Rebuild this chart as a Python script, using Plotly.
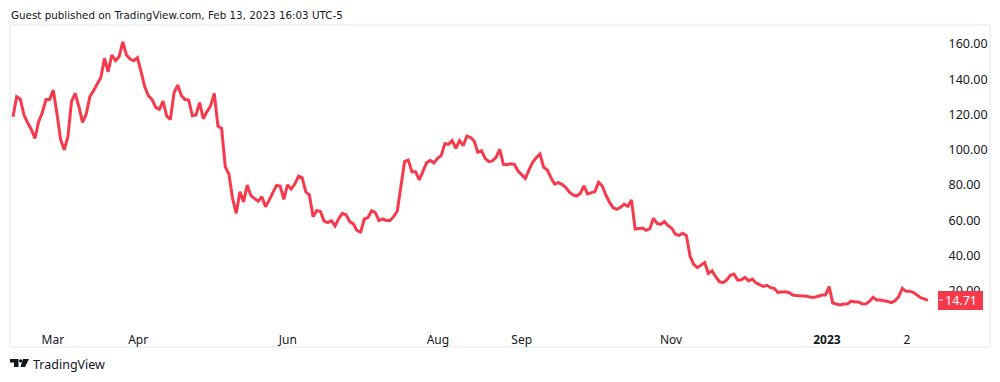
import plotly.graph_objects as go

prices = [
118.7,130.1,128.7,119.7,115.3,111.5,106.4,115.9,121.0,128.5,128.5,133.8,120.6,105.9,99.9,107.4,127.6,131.9,124.4,115.5,
120.2,130.1,133.5,137.6,141.0,151.8,144.2,153.7,150.5,152.8,161.2,153.7,151.4,150.5,152.2,144.2,135.7,130.6,128.5,124.0,
122.9,127.6,119.1,117.2,132.3,136.7,130.8,128.5,128.2,119.3,119.7,126.7,117.6,121.6,125.0,131.9,113.4,112.1,90.4,86.2,
72.4,64.0,76.2,70.5,80.0,74.0,72.4,70.9,73.4,67.7,71.5,75.3,79.8,79.4,71.9,80.2,77.7,80.6,85.1,84.2,
76.2,74.3,62.0,65.6,65.1,59.6,58.7,59.8,56.8,61.0,
64.0,63.2,59.3,58.0,54.2,53.4,60.8,61.6,65.5,64.4,59.9,60.8,60.0,59.9,62.1,65.3,79.5,93.3,94.2,87.6,
87.6,82.9,87.6,92.7,94.0,92.5,95.2,96.7,103.5,103.1,105.2,100.8,105.2,102.3,107.8,107.1,105.0,98.6,99.5,95.2,
93.3,93.7,95.7,100.3,91.8,91.6,92.1,91.8,88.0,86.1,83.8,88.6,92.9,95.6,97.6,90.1,88.6,84.2,80.6,81.4,
80.4,78.7,76.1,74.4,73.8,75.3,79.5,75.0,75.7,76.3,81.6,79.5,74.4,70.2,67.2,66.3,67.4,69.1,68.0,71.6,
55.1,55.3,55.7,54.4,55.3,61.2,58.3,57.8,59.3,57.0,
55.5,52.1,51.5,52.7,51.4,39.8,35.1,33.2,34.7,36.1,30.0,31.5,28.1,25.3,24.7,26.2,28.9,29.6,26.2,26.4,
27.7,25.7,26.8,24.7,23.6,22.6,23.2,21.9,21.5,19.2,19.4,19.6,19.2,17.7,17.4,17.4,17.2,17.0,16.4,16.4,
17.0,17.7,17.7,22.5,13.2,12.8,12.1,12.6,12.6,14.3,13.8,13.8,12.8,12.6,14.1,16.4,14.9,14.9,14.7,14.1,
13.4,14.5,16.8,21.5,19.8,19.8,19.2,17.9,16.2,15.5,14.71,
]
x_tick_session = [10.9, 34.2, 75.1, 116.1, 139.0, 179.8, 222.4, 244.3]
x_tick_text = ["Mar", "Apr", "Jun", "Aug", "Sep", "Nov", "<b>2023</b>", "2"]
y_ticks = [20, 40, 60, 80, 100, 120, 140, 160]
y_tick_text = ["20.00", "40.00", "60.00", "80.00", "100.00", "120.00", "140.00", "160.00"]
last_price = prices[-1]
header = "Guest published on TradingView.com, Feb 13, 2023 16:03 UTC-5"
brand = "TradingView"

W, H = 1000, 382
L, R, T, B = 11, 940, 26, 326
RED = "#F73A4B"
INK = "#131722"
FRAME = "#F0F3FA"
px = lambda v: (v - L) / (R - L)
py = lambda v: (B - v) / (B - T)


def path(points):
    return "M" + "L".join(f"{px(a):.5f},{py(b):.5f}" for a, b in points) + "Z"


fig = go.Figure(go.Scatter(x=list(range(len(prices))), y=prices, mode="lines",
                           line=dict(color=RED, width=3, shape="linear"), hoverinfo="skip"))

shapes = [
    dict(type="rect", xref="paper", yref="paper", x0=px(10), x1=px(990), y0=py(347), y1=py(25),
         line=dict(color=FRAME, width=2), fillcolor="rgba(0,0,0,0)", layer="below"),
    dict(type="rect", xref="paper", yref="paper", x0=px(938), x1=px(983), y0=py(310), y1=py(291),
         line=dict(width=0), fillcolor=RED, layer="above"),
    dict(type="line", xref="paper", yref="paper", x0=px(939), x1=px(943), y0=py(300), y1=py(300),
         line=dict(color="#FFFFFF", width=1), layer="above"),
]
logo = [
    [(10, 359), (18.5, 359), (18.5, 367), (14, 367), (14, 362.5), (10, 362.5)],
    [(23, 359), (29, 359), (25, 367), (20.5, 367)],
]
for pts in logo:
    shapes.append(dict(type="path", xref="paper", yref="paper", path=path(pts),
                       fillcolor=INK, line=dict(width=0)))
shapes.append(dict(type="circle", xref="paper", yref="paper", x0=px(19), x1=px(22.4), y0=py(362.6), y1=py(359.2),
                   fillcolor=INK, line=dict(width=0)))

annotations = [
    dict(text=header, xref="paper", yref="paper", x=px(9), y=py(15), xanchor="left", yanchor="middle",
         showarrow=False, font=dict(family="DejaVu Sans", size=10.35, color=INK)),
    dict(text=brand, xref="paper", yref="paper", x=px(31), y=py(365), xanchor="left", yanchor="middle",
         showarrow=False, font=dict(family="Noto Sans", size=12.5, color=INK)),
    dict(text=f"{last_price:.2f}", xref="paper", yref="y", x=px(961), y=last_price, xanchor="center", yanchor="middle",
         showarrow=False, font=dict(family="Noto Sans", size=12.5, color="#FFFFFF")),
]

fig.update_layout(
    width=W, height=H, autosize=False,
    margin=dict(l=L, r=W - R, t=T, b=H - B, pad=0),
    paper_bgcolor="#FFFFFF", plot_bgcolor="#FFFFFF", showlegend=False,
    font=dict(family="Noto Sans", size=12, color=INK),
    shapes=shapes, annotations=annotations,
    xaxis=dict(range=[-0.55, 253.3], tickmode="array", tickvals=x_tick_session, ticktext=x_tick_text,
               showgrid=False, zeroline=False, showline=False, ticks="outside", ticklen=3,
               tickcolor="rgba(0,0,0,0)", tickfont=dict(family="Noto Sans", size=12, color=INK)),
    yaxis=dict(side="right", range=[0.17, 170.14], tickmode="array", tickvals=y_ticks, ticktext=y_tick_text,
               showgrid=False, zeroline=False, showline=False, ticks="outside", ticklen=5,
               tickcolor="rgba(0,0,0,0)", tickfont=dict(family="Noto Sans", size=12.5, color=INK)),
)

fig.write_html("out.html", config={"displayModeBar": False}, post_script="document.body.style.margin='0';")
